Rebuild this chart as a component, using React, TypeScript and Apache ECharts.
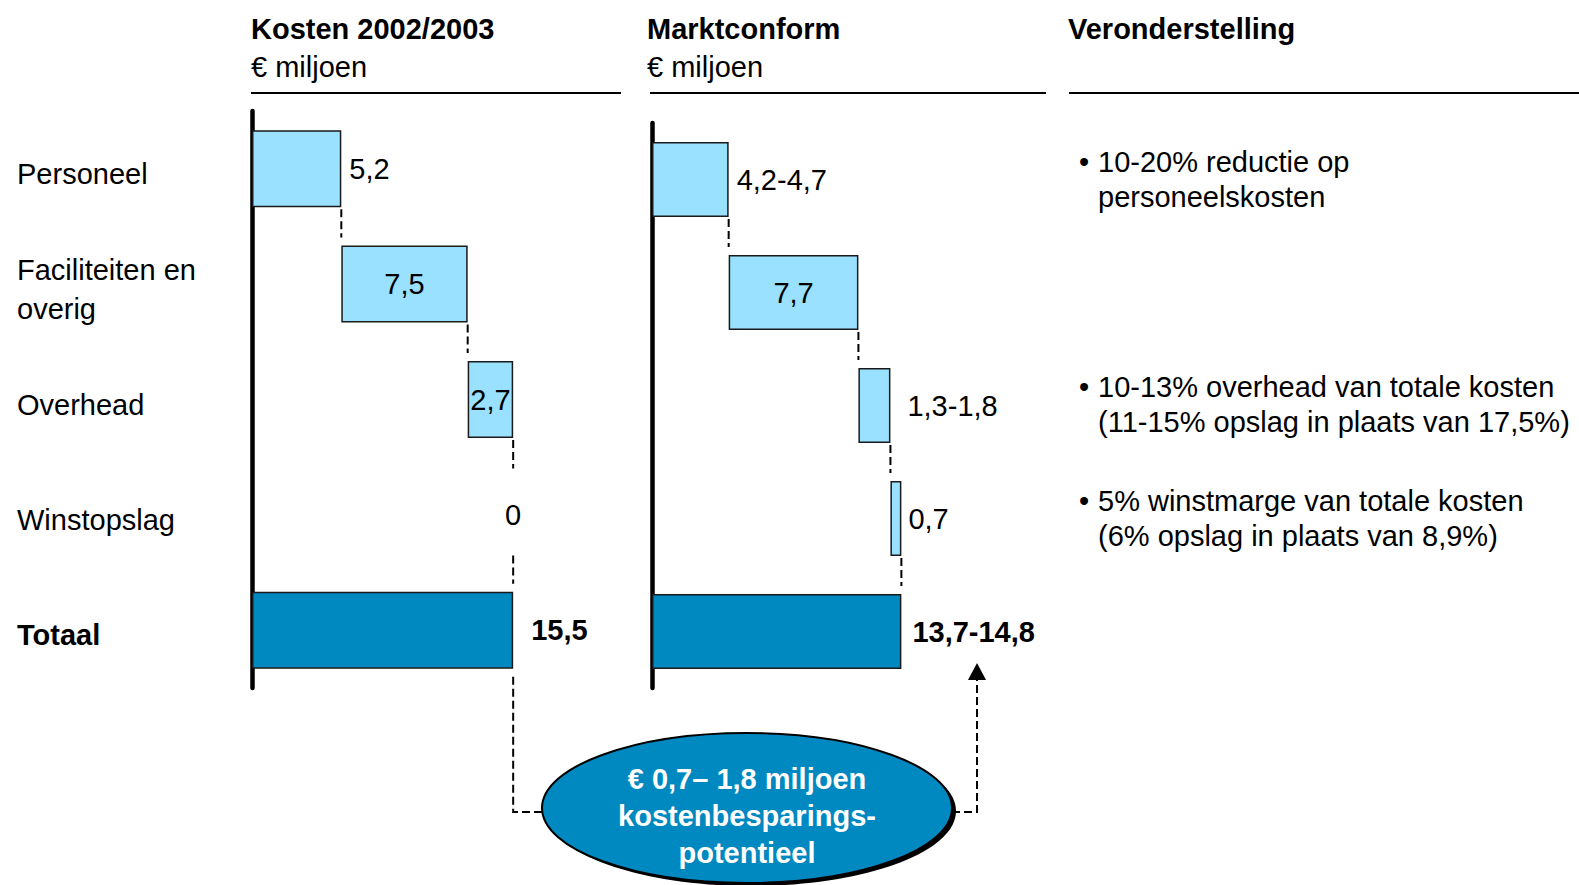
import React, { useEffect, useRef } from "react";
import * as echarts from "echarts";

// ---- data ----
const categories = ["Personeel", "Faciliteiten en\noverig", "Overhead", "Winstopslag", "Totaal"];

const kostenValues = [5.3, 7.5, 2.7, 0];
const kostenTotal = 15.5;
const kostenLabels = ["5,2", "7,5", "2,7", "0", "15,5"];

const marktValues = [4.55, 7.7, 1.9, 0.65];
const marktTotal = 14.8;
const marktLabels = ["4,2-4,7", "7,7", "1,3-1,8", "0,7", "13,7-14,8"];

const headers = ["Kosten 2002/2003", "Marktconform", "Veronderstelling"];
const unitLabel = "€ miljoen";

const assumptions = [
  ["10-20% reductie op", "personeelskosten"],
  ["10-13% overhead van totale kosten", "(11-15% opslag in plaats van 17,5%)"],
  ["5% winstmarge van totale kosten", "(6% opslag in plaats van 8,9%)"],
];

const savingsText = ["€ 0,7– 1,8 miljoen", "kostenbesparings-", "potentieel"];

// ---- styles ----
const FONT = "'Liberation Sans', Arial, Helvetica, sans-serif";
const FS = 29;
const LIGHT = "#99E1FF";
const DARK = "#0088C0";
const BORDER = "#1a1a1a";

// label placement per row: [position, distance]
const kostenPlacement: [string, number][] = [["right", 8], ["inside", 0], ["inside", 0], ["inside", 0], ["right", 18]];
const marktPlacement: [string, number][] = [["right", 8], ["inside", 0], ["right", 17], ["right", 7], ["right", 11]];

function waterfallSeries(
  values: number[],
  total: number,
  labels: string[],
  placement: [string, number][],
  gridIdx: number,
  barW: number
) {
  const bases: number[] = [];
  const ends: number[] = [];
  let acc = 0;
  values.forEach((v) => {
    bases.push(acc);
    acc += v;
    ends.push(acc);
  });
  bases.push(0);
  const all = [...values, total];
  const stack = "s" + gridIdx;
  return [
    {
      type: "bar",
      stack,
      xAxisIndex: gridIdx,
      yAxisIndex: gridIdx,
      barWidth: barW,
      silent: true,
      itemStyle: { color: "transparent", borderWidth: 0 },
      data: bases,
    },
    {
      type: "bar",
      stack,
      xAxisIndex: gridIdx,
      yAxisIndex: gridIdx,
      barWidth: barW,
      data: all.map((v, i) => ({
        value: v,
        itemStyle: {
          color: i === all.length - 1 ? DARK : LIGHT,
          borderColor: BORDER,
          borderWidth: v === 0 ? 0 : 1.5,
        },
        label: {
          show: true,
          formatter: labels[i],
          position: placement[i][0],
          distance: placement[i][1],
          color: "#000",
          fontSize: FS,
          fontFamily: FONT,
          fontWeight: i === all.length - 1 ? "bold" : "normal",
        },
      })),
    },
    {
      type: "custom",
      xAxisIndex: gridIdx,
      yAxisIndex: gridIdx,
      silent: true,
      data: ends.map((e, i) => [e, i]),
      renderItem: (params: any, api: any) => {
        const i = api.value(1);
        const x = api.coord([api.value(0), i])[0];
        const yc = api.coord([0, i])[1];
        const yn = api.coord([0, i + 1])[1];
        return {
          type: "line",
          shape: { x1: x, y1: yc + barW / 2 + 2, x2: x, y2: yn - barW / 2 - 8 },
          style: { stroke: "#000", lineWidth: 2, lineDash: [8, 4] },
        };
      },
    },
  ];
}

export default function App() {
  const ref = useRef<HTMLDivElement>(null);

  useEffect(() => {
    document.body.style.margin = "0";
    if (!ref.current) return;
    const chart = echarts.init(ref.current, undefined, { renderer: "svg" });

    const yAxisBase = {
      type: "category",
      inverse: true,
      axisTick: { show: false },
      axisLabel: { show: false },
      axisLine: { show: true, lineStyle: { color: "#000", width: 4.5, cap: "round" } },
      splitLine: { show: false },
    };

    const option: any = {
      animation: false,
      backgroundColor: "#fff",
      grid: [
        { left: 252, top: 111, width: 337, height: 577, containLabel: false, outerBoundsMode: "none" },
        { left: 652, top: 123, width: 337, height: 565, containLabel: false, outerBoundsMode: "none" },
      ],
      xAxis: [
        { type: "value", gridIndex: 0, min: 0, max: 20, show: false },
        { type: "value", gridIndex: 1, min: 0, max: 20, show: false },
      ],
      yAxis: [
        { ...yAxisBase, gridIndex: 0, data: categories },
        { ...yAxisBase, gridIndex: 1, data: categories },
      ],
      series: [
        ...waterfallSeries(kostenValues, kostenTotal, kostenLabels, kostenPlacement, 0, 77),
        ...waterfallSeries(marktValues, marktTotal, marktLabels, marktPlacement, 1, 75),
      ],
    };
    chart.setOption(option);

    const finder = { xAxisIndex: 0, yAxisIndex: 0 } as any;
    const leftEnd = chart.convertToPixel(finder, [kostenTotal, 4]) as number[];
    const leftX = leftEnd[0];
    const leftBottom = leftEnd[1] + 77 / 2 + 8;

    const textStyle = (extra: any) => ({
      fontSize: FS,
      fontFamily: FONT,
      fill: "#000",
      ...extra,
    });

    const dash = { stroke: "#000", lineWidth: 2, lineDash: [8, 4] };
    const ellCx = 747;
    const ellCy = 808;
    const lineY = 812;

    const graphic: any[] = [
      // headers
      { type: "text", x: 251, y: 29, style: textStyle({ text: headers[0], fontWeight: "bold", verticalAlign: "middle" }) },
      { type: "text", x: 251, y: 67, style: textStyle({ text: unitLabel, verticalAlign: "middle" }) },
      { type: "text", x: 647, y: 29, style: textStyle({ text: headers[1], fontWeight: "bold", verticalAlign: "middle" }) },
      { type: "text", x: 647, y: 67, style: textStyle({ text: unitLabel, verticalAlign: "middle" }) },
      { type: "text", x: 1068, y: 29, style: textStyle({ text: headers[2], fontWeight: "bold", verticalAlign: "middle" }) },
      { type: "line", shape: { x1: 251, y1: 93, x2: 621, y2: 93 }, style: { stroke: "#000", lineWidth: 2 } },
      { type: "line", shape: { x1: 650, y1: 93, x2: 1046, y2: 93 }, style: { stroke: "#000", lineWidth: 2 } },
      { type: "line", shape: { x1: 1069, y1: 93, x2: 1579, y2: 93 }, style: { stroke: "#000", lineWidth: 2 } },
    ];

    // category labels, aligned to the rows of the left chart
    categories.forEach((c, i) => {
      const p = chart.convertToPixel(finder, [0, i]) as number[];
      graphic.push({
        type: "text",
        x: 17,
        y: p[1] + 5,
        style: textStyle({
          text: c,
          verticalAlign: "middle",
          lineHeight: 39,
          fontWeight: i === categories.length - 1 ? "bold" : "normal",
        }),
      });
    });

    const assumptionY = [179, 404, 518];
    assumptions.forEach((lines, k) => {
      graphic.push({
        type: "text",
        x: 1079,
        y: assumptionY[k] - 17.5,
        style: textStyle({ text: "•", verticalAlign: "middle" }),
      });
      graphic.push({
        type: "text",
        x: 1098,
        y: assumptionY[k],
        style: textStyle({ text: lines.join("\n"), verticalAlign: "middle", lineHeight: 35 }),
      });
    });

    // savings annotation
    graphic.push(
      { type: "polyline", shape: { points: [[leftX, leftBottom], [leftX, lineY], [ellCx - 205, lineY]] }, style: { ...dash, fill: null } },
      { type: "polyline", shape: { points: [[ellCx + 205, lineY], [977, lineY], [977, 680]] }, style: { ...dash, fill: null } },
      { type: "polygon", shape: { points: [[977, 663], [968, 680], [986, 680]] }, style: { fill: "#000" } },
      { type: "ellipse", shape: { cx: ellCx + 4, cy: ellCy + 3, rx: 205, ry: 75 }, style: { fill: "#000" } },
      { type: "ellipse", shape: { cx: ellCx, cy: ellCy, rx: 205, ry: 75 }, style: { fill: DARK, stroke: "#000", lineWidth: 2 } },
      {
        type: "text",
        x: ellCx,
        y: 816,
        style: textStyle({
          text: savingsText.join("\n"),
          fill: "#fff",
          fontWeight: "bold",
          align: "center",
          verticalAlign: "middle",
          lineHeight: 37,
        }),
      }
    );

    chart.setOption({ graphic });

    return () => chart.dispose();
  }, []);

  return <div ref={ref} style={{ width: 1579, height: 885 }} />;
}
